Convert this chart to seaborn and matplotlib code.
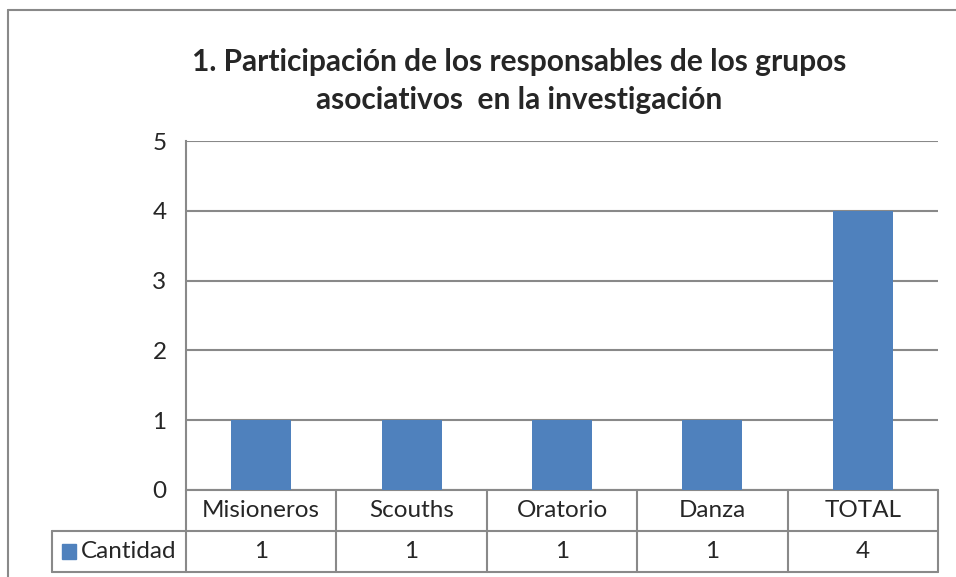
import matplotlib
matplotlib.use("Agg")
import matplotlib.pyplot as plt
import matplotlib.transforms as mtransforms
import seaborn as sns

categories = ["Misioneros", "Scouths", "Oratorio", "Danza", "TOTAL"]
cantidad = [1, 1, 1, 1, 4]
series_name = "Cantidad"
title = "1. Participación de los responsables de los grupos\nasociativos  en la investigación"

bar_color = "#4F81BD"
line_color = "#898989"

sns.set_style("white")
plt.rcParams["font.family"] = ["Lato", "DejaVu Sans"]

W, H = 956, 577
fig = plt.figure(figsize=(W / 100, H / 100), dpi=100)

# outer chart frame (cropped on right and bottom)
fig.add_artist(plt.Line2D([8 / W, 1], [1 - 10 / H, 1 - 10 / H], color=line_color, lw=1.5))
fig.add_artist(plt.Line2D([8 / W, 8 / W], [0, 1 - 10 / H], color=line_color, lw=1.5))

ax = fig.add_axes([186 / W, 1 - 490 / H, (938 - 186) / W, (490 - 141) / H])
sns.barplot(x=categories, y=cantidad, color=bar_color, saturation=1, width=0.4,
            linewidth=0, ax=ax, zorder=3)

ax.set_ylim(0, 5)
ax.set_xlim(-0.5, len(categories) - 0.5)
ax.set_yticks(range(0, 6))
ax.tick_params(axis="y", length=0, pad=14, labelsize=17.5)
ax.set_xticks([])
ax.set_xlabel("")
ax.set_ylabel("")
ax.yaxis.grid(True, color=line_color, lw=1.5, zorder=0)
ax.set_axisbelow(True)
for side in ["top", "right", "bottom"]:
    ax.spines[side].set_visible(False)
ax.spines["left"].set_color(line_color)
ax.spines["left"].set_linewidth(1.5)

# data table below the axis
trans = mtransforms.blended_transform_factory(ax.transData, ax.transAxes)
row1 = -41 / 349
row2 = -82 / 349
legend_left = (52 - 186) / 752
kw = dict(color=line_color, lw=1.5, clip_on=False)

n = len(categories)
ax.plot([-0.5, n - 0.5], [0, 0], transform=trans, **kw)
ax.plot([-0.5, n - 0.5], [row1, row1], transform=trans, **kw)
ax.plot([-0.5, n - 0.5], [row2, row2], transform=trans, **kw)
for i in range(n + 1):
    ax.plot([i - 0.5, i - 0.5], [0, row2], transform=trans, **kw)
ax.plot([legend_left, 0], [row1, row1], transform=ax.transAxes, **kw)
ax.plot([legend_left, 0], [row2, row2], transform=ax.transAxes, **kw)
ax.plot([legend_left, legend_left], [row1, row2], transform=ax.transAxes, **kw)

for i, (cat, val) in enumerate(zip(categories, cantidad)):
    ax.text(i, row1 / 2, cat, transform=trans, ha="center", va="center", fontsize=17.5)
    ax.text(i, (row1 + row2) / 2, str(val), transform=trans, ha="center", va="center", fontsize=17.5)

ax.add_patch(plt.Rectangle((legend_left + 0.013, (row1 + row2) / 2 - 0.021), 0.019, 0.042,
                           transform=ax.transAxes, color=bar_color, clip_on=False))
ax.text(legend_left + 0.039, (row1 + row2) / 2, series_name, transform=ax.transAxes,
        ha="left", va="center", fontsize=17.5)

fig.text(519 / W, 1 - 81 / H, title, ha="center", va="center", fontsize=21.5,
         fontweight="bold", linespacing=1.4)

fig.savefig("out.png", dpi=100)
